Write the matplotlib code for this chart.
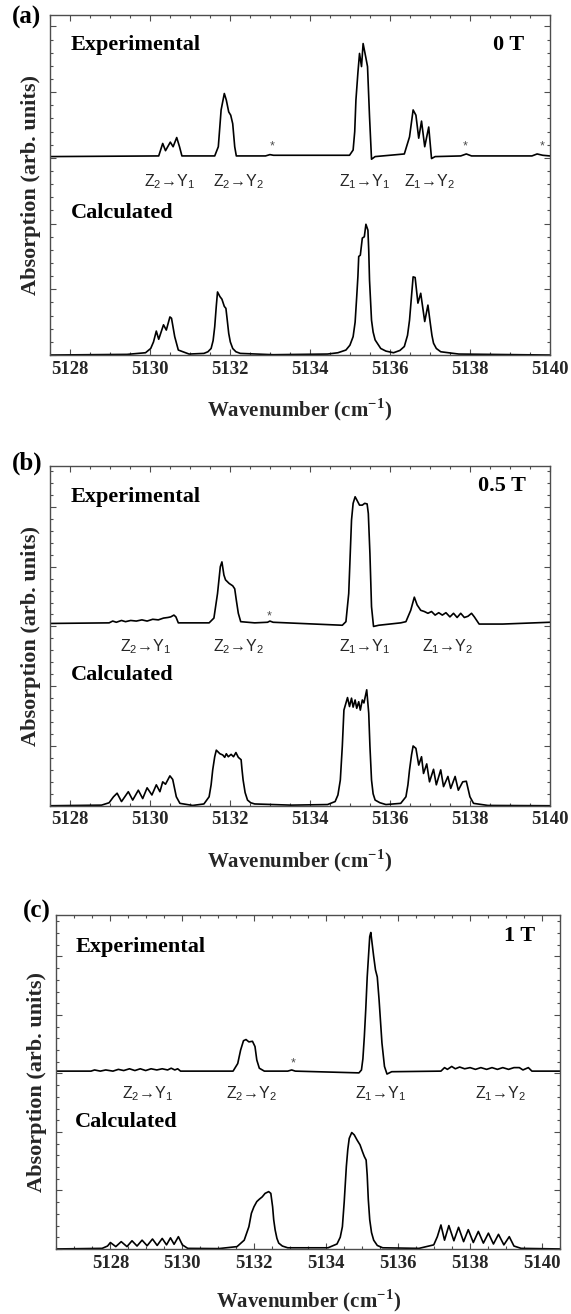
import numpy as np
import matplotlib
matplotlib.use("Agg")
import matplotlib.pyplot as plt
from matplotlib.ticker import MultipleLocator
import matplotlib.transforms as mtransforms

# ---- data (wavenumber in cm-1, absorption in arb. units) ----
# panel (a) 0 T
a_exp = [(5127.5, 3.02), (5130.22, 3.03), (5130.32, 3.22), (5130.39, 3.11), (5130.51, 3.24),
         (5130.58, 3.17), (5130.67, 3.31), (5130.74, 3.17), (5130.80, 3.03), (5131.62, 3.03),
         (5131.71, 3.17), (5131.78, 3.73), (5131.86, 3.98), (5131.91, 3.88), (5131.97, 3.70),
         (5132.02, 3.65), (5132.07, 3.52), (5132.12, 3.17), (5132.16, 3.03), (5132.89, 3.03),
         (5133.00, 3.05), (5133.09, 3.04), (5134.99, 3.04), (5135.08, 3.12), (5135.12, 3.40),
         (5135.15, 3.88), (5135.20, 4.30), (5135.24, 4.59), (5135.29, 4.39), (5135.33, 4.74),
         (5135.40, 4.52), (5135.44, 4.39), (5135.49, 3.63), (5135.54, 2.98), (5135.63, 3.02),
         (5136.36, 3.06), (5136.49, 3.32), (5136.58, 3.73), (5136.65, 3.65), (5136.72, 3.30),
         (5136.79, 3.56), (5136.87, 3.17), (5136.97, 3.47), (5137.04, 2.99), (5137.13, 3.02),
         (5137.77, 3.03), (5137.91, 3.06), (5138.04, 3.03), (5139.55, 3.03), (5139.68, 3.06),
         (5139.82, 3.04), (5140.0, 3.03)]
a_calc = [(5127.5, 0.0), (5129.43, 0.01), (5129.89, 0.035), (5130.02, 0.10), (5130.09, 0.20),
          (5130.16, 0.365), (5130.22, 0.24), (5130.34, 0.46), (5130.41, 0.38), (5130.50, 0.58),
          (5130.54, 0.56), (5130.62, 0.28), (5130.71, 0.076), (5130.98, 0.015), (5131.35, 0.025),
          (5131.45, 0.05), (5131.53, 0.10), (5131.58, 0.22), (5131.62, 0.43), (5131.66, 0.75),
          (5131.69, 0.96), (5131.75, 0.89), (5131.80, 0.85), (5131.86, 0.74), (5131.90, 0.71),
          (5131.93, 0.55), (5131.97, 0.33), (5132.01, 0.20), (5132.07, 0.10), (5132.15, 0.05),
          (5132.26, 0.025), (5133.08, 0.005), (5134.44, 0.015), (5134.70, 0.035), (5134.90, 0.076),
          (5135.00, 0.15), (5135.08, 0.28), (5135.13, 0.50), (5135.17, 0.89), (5135.20, 1.20),
          (5135.22, 1.50), (5135.26, 1.52), (5135.31, 1.78), (5135.36, 1.80), (5135.40, 1.99),
          (5135.45, 1.90), (5135.47, 1.60), (5135.49, 1.14), (5135.54, 0.53), (5135.58, 0.35),
          (5135.63, 0.23), (5135.77, 0.10), (5135.90, 0.06), (5136.09, 0.035), (5136.25, 0.07),
          (5136.36, 0.13), (5136.44, 0.30), (5136.49, 0.53), (5136.54, 0.90), (5136.58, 1.19),
          (5136.63, 1.18), (5136.70, 0.79), (5136.77, 0.94), (5136.87, 0.51), (5136.95, 0.76),
          (5137.01, 0.48), (5137.05, 0.30), (5137.09, 0.18), (5137.16, 0.10), (5137.27, 0.05),
          (5137.72, 0.015), (5140.0, 0.0)]

# panel (b) 0.5 T
b_exp = [(5127.5, 3.05), (5128.98, 3.06), (5129.07, 3.09), (5129.16, 3.07), (5129.29, 3.10),
         (5129.39, 3.08), (5129.52, 3.10), (5129.66, 3.09), (5129.80, 3.11), (5129.93, 3.09),
         (5130.07, 3.12), (5130.21, 3.11), (5130.34, 3.14), (5130.45, 3.15), (5130.52, 3.16),
         (5130.60, 3.19), (5130.65, 3.16), (5130.71, 3.06), (5131.48, 3.06), (5131.60, 3.14),
         (5131.69, 3.55), (5131.76, 4.00), (5131.80, 4.08), (5131.85, 3.86), (5131.89, 3.78),
         (5131.98, 3.72), (5132.07, 3.68), (5132.12, 3.63), (5132.16, 3.44), (5132.21, 3.22),
         (5132.27, 3.08), (5132.62, 3.06), (5132.94, 3.07), (5133.00, 3.09), (5133.08, 3.07),
         (5134.81, 3.02), (5134.90, 3.08), (5134.97, 3.55), (5135.04, 4.78), (5135.08, 5.06),
         (5135.13, 5.17), (5135.17, 5.12), (5135.24, 5.03), (5135.31, 5.03), (5135.37, 5.06),
         (5135.43, 5.05), (5135.46, 4.89), (5135.50, 4.22), (5135.54, 3.33), (5135.59, 3.00),
         (5135.72, 3.02), (5136.27, 3.06), (5136.40, 3.08), (5136.52, 3.27), (5136.61, 3.49),
         (5136.68, 3.36), (5136.77, 3.27), (5136.86, 3.25), (5136.95, 3.22), (5137.04, 3.25),
         (5137.13, 3.19), (5137.22, 3.23), (5137.31, 3.19), (5137.40, 3.23), (5137.50, 3.16),
         (5137.59, 3.22), (5137.68, 3.15), (5137.77, 3.22), (5137.86, 3.15), (5137.95, 3.17),
         (5138.04, 3.22), (5138.11, 3.16), (5138.16, 3.11), (5138.23, 3.04), (5138.82, 3.04),
         (5140.0, 3.07)]
b_calc = [(5127.5, 0.0), (5128.79, 0.01), (5128.98, 0.05), (5129.09, 0.15), (5129.18, 0.21),
          (5129.29, 0.07), (5129.46, 0.235), (5129.57, 0.095), (5129.71, 0.26), (5129.82, 0.12),
          (5129.93, 0.30), (5130.05, 0.18), (5130.16, 0.35), (5130.25, 0.235), (5130.32, 0.40),
          (5130.39, 0.36), (5130.50, 0.50), (5130.57, 0.44), (5130.66, 0.15), (5130.75, 0.04),
          (5131.07, 0.005), (5131.35, 0.03), (5131.48, 0.15), (5131.53, 0.35), (5131.57, 0.60),
          (5131.62, 0.82), (5131.66, 0.93), (5131.75, 0.87), (5131.82, 0.85), (5131.87, 0.81),
          (5131.91, 0.87), (5131.96, 0.82), (5132.03, 0.86), (5132.09, 0.82), (5132.15, 0.89),
          (5132.21, 0.81), (5132.28, 0.77), (5132.30, 0.62), (5132.33, 0.43), (5132.38, 0.22),
          (5132.44, 0.095), (5132.52, 0.05), (5132.62, 0.03), (5133.53, 0.01), (5134.44, 0.02),
          (5134.63, 0.07), (5134.70, 0.18), (5134.76, 0.43), (5134.81, 1.00), (5134.85, 1.60),
          (5134.94, 1.81), (5134.99, 1.66), (5135.04, 1.80), (5135.08, 1.65), (5135.13, 1.77),
          (5135.17, 1.63), (5135.22, 1.74), (5135.26, 1.60), (5135.31, 1.77), (5135.35, 1.72),
          (5135.42, 1.94), (5135.47, 1.55), (5135.50, 1.00), (5135.54, 0.43), (5135.58, 0.20),
          (5135.63, 0.095), (5135.75, 0.05), (5135.90, 0.02), (5136.27, 0.04), (5136.40, 0.15),
          (5136.45, 0.35), (5136.49, 0.60), (5136.54, 0.85), (5136.58, 1.00), (5136.65, 0.96),
          (5136.72, 0.68), (5136.79, 0.82), (5136.84, 0.54), (5136.92, 0.70), (5136.99, 0.40),
          (5137.09, 0.61), (5137.16, 0.35), (5137.27, 0.60), (5137.34, 0.32), (5137.45, 0.49),
          (5137.52, 0.29), (5137.63, 0.49), (5137.71, 0.26), (5137.82, 0.40), (5137.91, 0.41),
          (5138.00, 0.15), (5138.09, 0.04), (5138.45, 0.005), (5140.0, 0.0)]

# panel (c) 1 T
c_exp = [(5126.5, 3.04), (5127.46, 3.04), (5127.56, 3.06), (5127.72, 3.04), (5127.87, 3.06),
         (5128.07, 3.04), (5128.22, 3.07), (5128.37, 3.05), (5128.53, 3.08), (5128.68, 3.05),
         (5128.83, 3.08), (5128.98, 3.05), (5129.13, 3.08), (5129.29, 3.06), (5129.44, 3.08),
         (5129.59, 3.06), (5129.69, 3.09), (5129.79, 3.06), (5129.87, 3.08), (5129.95, 3.04),
         (5131.41, 3.04), (5131.54, 3.17), (5131.62, 3.40), (5131.70, 3.56), (5131.77, 3.58),
         (5131.85, 3.54), (5131.95, 3.55), (5132.02, 3.46), (5132.07, 3.23), (5132.14, 3.09),
         (5132.28, 3.04), (5132.93, 3.04), (5133.04, 3.06), (5133.14, 3.04), (5134.91, 3.01),
         (5134.98, 3.06), (5135.02, 3.25), (5135.06, 3.63), (5135.10, 4.10), (5135.14, 4.65),
         (5135.21, 5.34), (5135.24, 5.41), (5135.32, 5.00), (5135.37, 4.77), (5135.42, 4.65),
         (5135.47, 4.26), (5135.55, 3.52), (5135.62, 3.12), (5135.69, 2.99), (5135.82, 3.03),
         (5137.19, 3.04), (5137.29, 3.10), (5137.37, 3.07), (5137.49, 3.12), (5137.59, 3.08),
         (5137.71, 3.11), (5137.85, 3.08), (5138.00, 3.10), (5138.15, 3.07), (5138.30, 3.10),
         (5138.46, 3.07), (5138.61, 3.10), (5138.76, 3.07), (5138.91, 3.10), (5139.07, 3.07),
         (5139.22, 3.10), (5139.37, 3.10), (5139.47, 3.06), (5139.62, 3.10), (5139.72, 3.04),
         (5140.5, 3.04)]
c_calc = [(5126.5, 0.0), (5127.77, 0.01), (5127.92, 0.05), (5128.00, 0.11), (5128.15, 0.04),
          (5128.30, 0.125), (5128.46, 0.04), (5128.60, 0.14), (5128.74, 0.05), (5128.88, 0.15),
          (5129.02, 0.055), (5129.17, 0.17), (5129.30, 0.06), (5129.44, 0.18), (5129.56, 0.07),
          (5129.67, 0.19), (5129.77, 0.08), (5129.89, 0.21), (5130.00, 0.07), (5130.15, 0.01),
          (5131.01, 0.006), (5131.52, 0.04), (5131.72, 0.15), (5131.85, 0.38), (5131.92, 0.61),
          (5131.99, 0.72), (5132.07, 0.81), (5132.14, 0.85), (5132.22, 0.89), (5132.30, 0.95),
          (5132.40, 0.98), (5132.46, 0.95), (5132.51, 0.72), (5132.54, 0.50), (5132.58, 0.325),
          (5132.63, 0.18), (5132.68, 0.10), (5132.78, 0.05), (5132.93, 0.02), (5134.05, 0.02),
          (5134.30, 0.085), (5134.39, 0.20), (5134.45, 0.38), (5134.50, 0.80), (5134.56, 1.41),
          (5134.60, 1.70), (5134.64, 1.89), (5134.71, 1.99), (5134.78, 1.95), (5134.86, 1.86),
          (5134.94, 1.78), (5135.01, 1.66), (5135.06, 1.58), (5135.11, 1.52), (5135.14, 1.26),
          (5135.17, 0.85), (5135.21, 0.50), (5135.26, 0.28), (5135.32, 0.15), (5135.42, 0.06),
          (5135.57, 0.02), (5136.58, 0.01), (5136.99, 0.07), (5137.09, 0.21), (5137.19, 0.41),
          (5137.29, 0.15), (5137.41, 0.40), (5137.55, 0.14), (5137.68, 0.37), (5137.82, 0.125),
          (5137.95, 0.33), (5138.09, 0.11), (5138.23, 0.30), (5138.37, 0.10), (5138.51, 0.27),
          (5138.65, 0.085), (5138.79, 0.25), (5138.94, 0.07), (5139.09, 0.21), (5139.22, 0.05),
          (5139.42, 0.01), (5140.5, 0.0)]

transitions = ["Z$_\\mathregular{2}$\u2192Y$_\\mathregular{1}$", "Z$_\\mathregular{2}$\u2192Y$_\\mathregular{2}$",
               "Z$_\\mathregular{1}$\u2192Y$_\\mathregular{1}$", "Z$_\\mathregular{1}$\u2192Y$_\\mathregular{2}$"]
a_label_x = [5130.48, 5132.21, 5135.36, 5136.99]
b_label_x = [5129.89, 5132.21, 5135.36, 5137.45]
c_label_x = [5129.03, 5131.92, 5135.52, 5138.86]
a_stars = [(5133.06, 3.17), (5137.89, 3.17), (5139.80, 3.18)]
b_stars = [(5132.99, 3.17)]
c_stars = [(5133.07, 3.17)]
fields = ["0 T", "0.5 T", "1 T"]
panel_tags = ["(a)", "(b)", "(c)"]

SERIF = ["Liberation Serif", "DejaVu Serif"]
SANS = ["Liberation Sans", "DejaVu Sans"]

fig = plt.figure(figsize=(5.71, 13.14), dpi=100)

panels = [
    dict(rect=[0.0874, 0.7298, 0.8757, 0.2588], xlim=(5127.5, 5140.0), ylim=5.175,
         exp=a_exp, calc=a_calc, lx=a_label_x, ly=0.51, stars=a_stars,
         exp_y=0.912, calc_y=0.418, tx=0.042, fy=0.912, fx=0.949, tag_xy=(0.047, 0.987),
         ylab_x=-0.018, xlab_y=-0.122),
    dict(rect=[0.0874, 0.3868, 0.8757, 0.2588], xlim=(5127.5, 5140.0), ylim=5.69,
         exp=b_exp, calc=b_calc, lx=b_label_x, ly=0.468, stars=b_stars,
         exp_y=0.909, calc_y=0.384, tx=0.042, fy=0.941, fx=0.952, tag_xy=(0.047, 0.6476),
         ylab_x=-0.018, xlab_y=-0.122),
    dict(rect=[0.0989, 0.0495, 0.8818, 0.2542], xlim=(5126.5, 5140.5), ylim=5.71,
         exp=c_exp, calc=c_calc, lx=c_label_x, ly=0.466, stars=c_stars,
         exp_y=0.905, calc_y=0.381, tx=0.0375, fy=0.937, fx=0.951, tag_xy=(0.065, 0.306),
         ylab_x=-0.019, xlab_y=-0.114),
]

for i, p in enumerate(panels):
    ax = fig.add_axes(p["rect"])
    e = np.array(p["exp"])
    c = np.array(p["calc"])
    ax.plot(e[:, 0], e[:, 1], color="black", lw=1.2, solid_joinstyle="round")
    ax.plot(c[:, 0], c[:, 1], color="black", lw=1.2, solid_joinstyle="round")
    ax.set_xlim(*p["xlim"])
    ax.set_ylim(0, p["ylim"])

    ax.xaxis.set_major_locator(MultipleLocator(2))
    ax.xaxis.set_minor_locator(MultipleLocator(0.5))
    ax.yaxis.set_major_locator(MultipleLocator(1))
    ax.yaxis.set_minor_locator(MultipleLocator(0.2))
    ax.tick_params(which="both", direction="in", top=True, right=True,
                   labelleft=False, color="0.3", width=0.8)
    ax.tick_params(which="major", length=4.5, pad=4)
    ax.tick_params(which="minor", length=2.5)
    for s in ax.spines.values():
        s.set_color("0.3")
        s.set_linewidth(1.0)
    for lab in ax.get_xticklabels():
        lab.set_fontfamily(SERIF)
        lab.set_fontweight("bold")
        lab.set_fontsize(13.5)
        lab.set_color("0.15")

    ax.set_ylabel("Absorption (arb. units)", family=SERIF, weight="bold",
                  fontsize=16, color="0.15")
    ax.yaxis.set_label_coords(p["ylab_x"], 0.5)
    ax.set_xlabel("Wavenumber (cm$^{\\mathregular{-1}}$)", family=SERIF, weight="bold",
                  fontsize=15, color="0.15")
    ax.xaxis.set_label_coords(0.5, p["xlab_y"])

    ax.text(p["tx"], p["exp_y"], "Experimental", transform=ax.transAxes, family=SERIF,
            weight="bold", fontsize=16, va="center", ha="left")
    ax.text(p["tx"], p["calc_y"], "Calculated", transform=ax.transAxes, family=SERIF,
            weight="bold", fontsize=16, va="center", ha="left")
    ax.text(p["fx"], p["fy"], fields[i], transform=ax.transAxes, family=SERIF,
            weight="bold", fontsize=16, va="center", ha="right")

    blend = mtransforms.blended_transform_factory(ax.transData, ax.transAxes)
    for xl, txt in zip(p["lx"], transitions):
        ax.text(xl, p["ly"], txt, transform=blend, family=SANS, fontsize=11.5,
                color="0.15", ha="center", va="center")
    for sx, sy in p["stars"]:
        ax.text(sx, sy, "*", family=SANS, fontsize=9, color="0.3",
                ha="center", va="center")

    fig.text(p["tag_xy"][0], p["tag_xy"][1], panel_tags[i], family=SERIF,
             weight="bold", fontsize=18, ha="center", va="center")

fig.savefig("out.png", dpi=100)
